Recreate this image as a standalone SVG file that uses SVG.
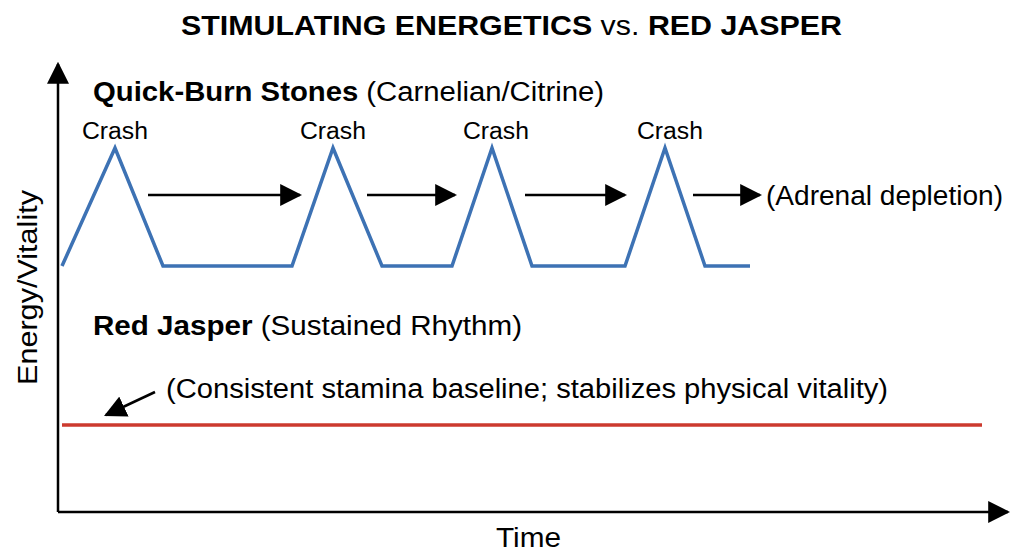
<svg xmlns="http://www.w3.org/2000/svg" width="1024" height="559" viewBox="0 0 1024 559">
<defs>
<marker id="ah2" viewBox="0 0 10 10" refX="9" refY="5" markerWidth="22" markerHeight="22" markerUnits="userSpaceOnUse" orient="auto"><path d="M0,0L10,5L0,10z" fill="#000"/></marker>
<style>
text{font-family:"Liberation Sans",Arial,sans-serif;fill:#000}
.ar{stroke:#000;stroke-width:2.5;fill:none;marker-end:url(#ah2)}
</style>
</defs>
<rect width="1024" height="559" fill="#fff"/>
<text x="181" y="35" font-size="28" font-weight="bold" textLength="661" lengthAdjust="spacingAndGlyphs">STIMULATING ENERGETICS <tspan font-weight="normal">vs.</tspan> RED JASPER</text>
<g id="axes">
<path class="ar" d="M58,512V64"/>
<path class="ar" d="M58,512H1008"/>
<text transform="translate(37,385) rotate(-90)" font-size="27" textLength="195" lengthAdjust="spacingAndGlyphs">Energy/Vitality</text>
<text x="496" y="547" font-size="27" textLength="65" lengthAdjust="spacingAndGlyphs">Time</text>
</g>
<g id="quick">
<text x="93" y="101" font-size="27" textLength="511" lengthAdjust="spacingAndGlyphs"><tspan font-weight="bold">Quick-Burn Stones</tspan> (Carnelian/Citrine)</text>
<polyline points="62,266 115,148 163,266 292,266 333,148 382,266 452,266 492,148 532,266 625,266 665,148 705,266 750,266" fill="none" stroke="#3d72b4" stroke-width="3.5"/>
<text x="82" y="139" font-size="23" textLength="66" lengthAdjust="spacingAndGlyphs">Crash</text>
<text x="300" y="139" font-size="23" textLength="66" lengthAdjust="spacingAndGlyphs">Crash</text>
<text x="463" y="139" font-size="23" textLength="66" lengthAdjust="spacingAndGlyphs">Crash</text>
<text x="637" y="139" font-size="23" textLength="66" lengthAdjust="spacingAndGlyphs">Crash</text>
<text x="766" y="205" font-size="27" textLength="237" lengthAdjust="spacingAndGlyphs">(Adrenal depletion)</text>
</g>
<g id="connectors">
<path class="ar" d="M148,195H300"/>
<path class="ar" d="M367,195H455"/>
<path class="ar" d="M525,195H625"/>
<path class="ar" d="M693,195H760"/>
<path class="ar" d="M155,392L106,415"/>
</g>
<g id="red">
<text x="93" y="335" font-size="27" textLength="429" lengthAdjust="spacingAndGlyphs"><tspan font-weight="bold">Red Jasper</tspan> (Sustained Rhythm)</text>
<text x="166" y="398" font-size="27" textLength="722" lengthAdjust="spacingAndGlyphs">(Consistent stamina baseline; stabilizes physical vitality)</text>
<line x1="62" y1="425" x2="982" y2="425" stroke="#cc3a2e" stroke-width="3.5"/>
</g>
</svg>
